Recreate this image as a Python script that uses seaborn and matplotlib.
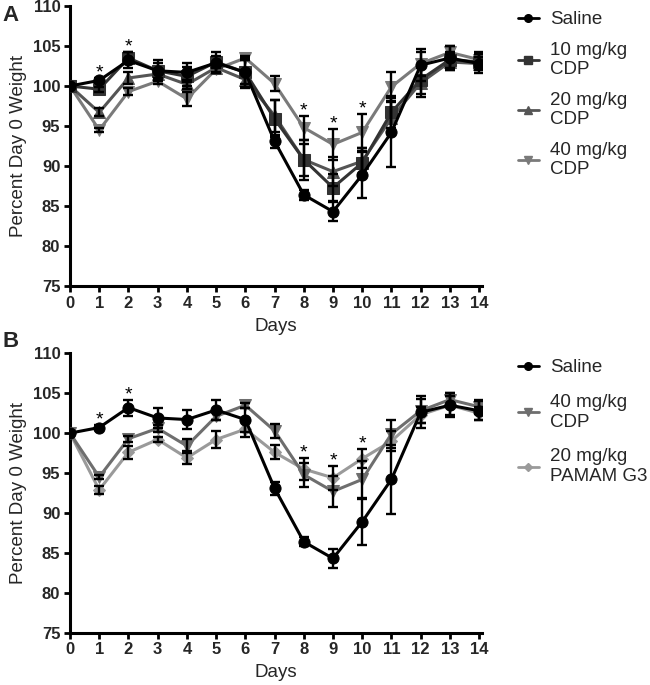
import numpy as np
import pandas as pd
import matplotlib
matplotlib.use("Agg")
import matplotlib.pyplot as plt
import seaborn as sns
from matplotlib.lines import Line2D

sns.set_style("ticks")
plt.rcParams['font.family'] = ['Liberation Sans', 'DejaVu Sans']

days = list(range(15))
day_ticks = list(range(15))
y_ticks = [75, 80, 85, 90, 95, 100, 105, 110]

saline_mean = [100, 100.7, 103.2, 101.9, 101.7, 102.9, 101.7, 93.1, 86.4, 84.3, 88.9, 94.2, 102.6, 103.5, 102.8]
saline_sem = [0, 0.3, 1.0, 1.3, 1.2, 1.3, 1.5, 0.8, 0.6, 1.2, 2.9, 4.3, 2.0, 1.5, 1.2]

cdp10_mean = [100, 99.6, 103.5, 101.9, 101.2, 103.0, 101.7, 95.9, 90.8, 87.3, 90.4, 96.7, 100.8, 103.3, 103.0]
cdp10_sem = [0, 0.3, 0.8, 1.0, 1.2, 0.8, 1.8, 2.3, 2.5, 1.7, 1.8, 2.0, 1.8, 1.0, 1.0]

cdp20_mean = [100, 96.7, 101.0, 101.5, 100.2, 102.3, 100.8, 96.3, 90.8, 89.3, 90.6, 96.0, 100.4, 103.0, 102.8]
cdp20_sem = [0, 0.5, 0.8, 0.6, 0.6, 0.5, 1.0, 2.0, 2.0, 1.8, 1.6, 2.0, 1.8, 1.0, 0.8]

cdp40_mean = [100, 94.5, 99.3, 100.6, 98.4, 102.1, 103.5, 100.3, 94.8, 92.7, 94.2, 99.9, 102.8, 104.2, 103.3]
cdp40_sem = [0, 0.3, 0.4, 0.4, 0.9, 0.5, 0.3, 0.9, 1.5, 1.9, 2.3, 1.8, 1.5, 0.8, 0.9]

pamam_mean = [100, 92.9, 97.6, 99.2, 96.9, 99.2, 100.5, 97.6, 95.5, 94.4, 96.8, 99.0, 102.3, 103.5, 102.5]
pamam_sem = [0, 0.5, 0.8, 0.3, 0.8, 1.1, 1.0, 0.9, 1.4, 1.5, 1.2, 1.3, 1.0, 1.2, 0.8]

sig_days = [1, 2, 8, 9, 10]

panel_a = [
    ("Saline", saline_mean, saline_sem, "#000000", "o"),
    ("10 mg/kg\nCDP", cdp10_mean, cdp10_sem, "#333333", "s"),
    ("20 mg/kg\nCDP", cdp20_mean, cdp20_sem, "#555555", "^"),
    ("40 mg/kg\nCDP", cdp40_mean, cdp40_sem, "#7a7a7a", "v"),
]
panel_b = [
    ("Saline", saline_mean, saline_sem, "#000000", "o"),
    ("40 mg/kg\nCDP", cdp40_mean, cdp40_sem, "#6e6e6e", "v"),
    ("20 mg/kg\nPAMAM G3", pamam_mean, pamam_sem, "#9a9a9a", "D"),
]

W, H = 650, 685
fig = plt.figure(figsize=(W / 100, H / 100), dpi=100)


def draw(ax, series, label, label_top, legend_top, lab_spacing):
    # draw lighter series first so black ends on top
    for name, m, s, col, mk in reversed(series):
        df = pd.DataFrame({"day": days, "val": m})
        ms = 6.5 if mk == "D" else 8
        sns.lineplot(data=df, x="day", y="val", ax=ax, color=col, marker=mk,
                     markersize=ms, markeredgecolor=col, linewidth=2.2, zorder=3)
        ax.errorbar(days, m, yerr=s, fmt="none", ecolor="black", elinewidth=1.7,
                    capsize=3.8, capthick=1.7, zorder=4)
    means = np.array([sr[1] for sr in series])
    sems = np.array([sr[2] for sr in series])
    top = (means + sems).max(axis=0)
    for d in sig_days:
        ax.text(d, top[d] - 0.45, "*", ha="center", va="bottom", fontsize=14, color="black")
    ax.set_xlim(0, 14.1)
    ax.set_ylim(75, 110)
    ax.set_xticks(day_ticks)
    ax.set_yticks(y_ticks)
    ax.set_xticklabels([str(d) for d in day_ticks], fontweight="bold", fontsize=12)
    ax.set_yticklabels([str(v) for v in y_ticks], fontweight="bold", fontsize=12)
    ax.set_xlabel("Days", fontsize=13.5, labelpad=5)
    ax.set_ylabel("Percent Day 0 Weight", fontsize=13.5, labelpad=4)
    for sp in ["top", "right"]:
        ax.spines[sp].set_visible(False)
    for sp in ["left", "bottom"]:
        ax.spines[sp].set_linewidth(2.2)
        ax.spines[sp].set_color("black")
    ax.tick_params(axis="both", width=2, length=4, color="black", pad=3)
    handles = []
    for name, m, s, col, mk in series:
        ms = 4.5 if mk == "D" else 5.5
        handles.append(Line2D([0], [0], color=col, marker=mk, markersize=ms,
                              linewidth=2.0, markeredgecolor=col))
    names = [sr[0] for sr in series]
    fig.legend(handles, names, loc="upper left",
               bbox_to_anchor=(518 / W, 1 - legend_top / H), frameon=False,
               fontsize=13.5, handlelength=1.1, handletextpad=0.6,
               labelspacing=lab_spacing, borderaxespad=0, borderpad=0)
    fig.text(2 / W, 1 - label_top / H, label, fontsize=16, fontweight="bold",
             ha="left", va="top")


axA = fig.add_axes([70 / W, 1 - 286 / H, 412 / W, 280 / H])
draw(axA, panel_a, "A", 5, 11, 0.72)
axB = fig.add_axes([70 / W, 1 - 632.7 / H, 412 / W, 279.4 / H])
draw(axB, panel_b, "B", 331, 359, 0.95)

fig.savefig("out.png", dpi=100)
